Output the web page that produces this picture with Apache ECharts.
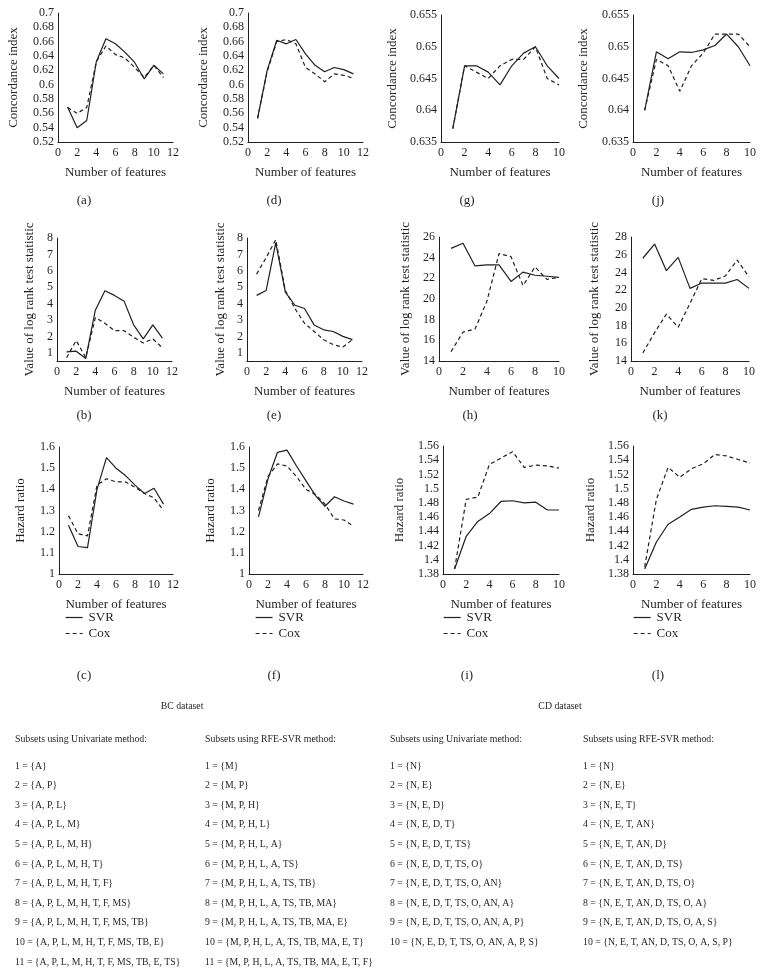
<!DOCTYPE html>
<html><head><meta charset="utf-8">
<script src="https://cdn.jsdelivr.net/npm/echarts@6/dist/echarts.min.js"></script>
<style>html,body{margin:0;padding:0;background:#fff}#c{width:764px;height:969px}</style>
</head><body><div id="c"></div><script>
// ---- data ----
const ciBcUni_svr = [0.569,0.540,0.550,0.632,0.664,0.657,0.645,0.631,0.608,0.627,0.615];
const ciBcUni_cox = [0.568,0.560,0.568,0.632,0.654,0.642,0.637,0.624,0.610,0.627,0.610];
const ciBcRfe_svr = [0.553,0.620,0.662,0.657,0.663,0.643,0.627,0.618,0.624,0.621,0.615];
const ciBcRfe_cox = [0.553,0.618,0.660,0.663,0.657,0.624,0.615,0.604,0.615,0.613,0.609];
const ciCdUni_svr = [0.6371,0.647,0.647,0.646,0.644,0.647,0.649,0.650,0.647,0.645];
const ciCdUni_cox = [0.6371,0.647,0.646,0.645,0.647,0.648,0.648,0.650,0.645,0.644];
const ciCdRfe_svr = [0.640,0.6492,0.6481,0.6492,0.6491,0.6495,0.6502,0.652,0.650,0.647];
const ciCdRfe_cox = [0.640,0.648,0.647,0.643,0.647,0.649,0.652,0.652,0.652,0.650];
const lrBcUni_svr = [1.06,1.10,0.65,3.60,4.78,4.50,4.15,2.70,1.85,2.70,1.90];
const lrBcUni_cox = [0.70,1.75,0.70,3.15,2.80,2.35,2.35,1.95,1.60,1.85,1.30];
const lrBcRfe_svr = [4.50,4.80,7.70,4.70,3.90,3.70,2.70,2.40,2.30,2.00,1.80];
const lrBcRfe_cox = [5.80,6.80,7.90,4.80,3.70,2.80,2.30,1.80,1.50,1.35,1.80];
const lrCdUni_svr = [24.9,25.4,23.2,23.3,23.3,21.7,22.6,22.3,22.2,22.1];
const lrCdUni_cox = [14.9,16.8,17.1,19.8,24.4,24.1,21.3,23.1,21.9,22.1];
const lrCdRfe_svr = [25.6,27.2,24.2,25.7,22.2,22.8,22.8,22.8,23.2,22.2];
const lrCdRfe_cox = [14.9,17.2,19.3,17.8,20.5,23.3,23.1,23.6,25.4,23.5];
const hrBcUni_svr = [1.23,1.13,1.125,1.40,1.55,1.50,1.465,1.42,1.38,1.405,1.33];
const hrBcUni_cox = [1.275,1.19,1.18,1.42,1.45,1.435,1.435,1.41,1.38,1.36,1.30];
const hrBcRfe_svr = [1.27,1.45,1.575,1.585,1.51,1.44,1.37,1.32,1.365,1.345,1.33];
const hrBcRfe_cox = [1.30,1.46,1.52,1.51,1.46,1.40,1.375,1.33,1.26,1.255,1.225];
const hrCdUni_svr = [1.387,1.433,1.454,1.465,1.482,1.483,1.480,1.481,1.470,1.470];
const hrCdUni_cox = [1.387,1.485,1.488,1.534,1.543,1.552,1.530,1.533,1.532,1.529];
const hrCdRfe_svr = [1.387,1.425,1.450,1.460,1.471,1.474,1.476,1.475,1.474,1.470];
const hrCdRfe_cox = [1.390,1.485,1.530,1.516,1.528,1.535,1.548,1.546,1.541,1.536];

const subBcUni = ['{A}','{A, P}','{A, P, L}','{A, P, L, M}','{A, P, L, M, H}','{A, P, L, M, H, T}','{A, P, L, M, H, T, F}','{A, P, L, M, H, T, F, MS}','{A, P, L, M, H, T, F, MS, TB}','{A, P, L, M, H, T, F, MS, TB, E}','{A, P, L, M, H, T, F, MS, TB, E, TS}'];
const subBcRfe = ['{M}','{M, P}','{M, P, H}','{M, P, H, L}','{M, P, H, L, A}','{M, P, H, L, A, TS}','{M, P, H, L, A, TS, TB}','{M, P, H, L, A, TS, TB, MA}','{M, P, H, L, A, TS, TB, MA, E}','{M, P, H, L, A, TS, TB, MA, E, T}','{M, P, H, L, A, TS, TB, MA, E, T, F}'];
const subCdUni = ['{N}','{N, E}','{N, E, D}','{N, E, D, T}','{N, E, D, T, TS}','{N, E, D, T, TS, O}','{N, E, D, T, TS, O, AN}','{N, E, D, T, TS, O, AN, A}','{N, E, D, T, TS, O, AN, A, P}','{N, E, D, T, TS, O, AN, A, P, S}'];
const subCdRfe = ['{N}','{N, E}','{N, E, T}','{N, E, T, AN}','{N, E, T, AN, D}','{N, E, T, AN, D, TS}','{N, E, T, AN, D, TS, O}','{N, E, T, AN, D, TS, O, A}','{N, E, T, AN, D, TS, O, A, S}','{N, E, T, AN, D, TS, O, A, S, P}'];

const yNames = {ci:'Concordance index', lr:'Value of log rank test statistic', hr:'Hazard ratio'};
// ---- layout ----
const FONT = '"Liberation Serif", "DejaVu Serif", serif';
const INK = '#231f20';
const panels = [
  {lab:'(a)', g:[58,13,115,129], y:'ci', ymin:0.52, ymax:0.7, yint:0.02, xmax:12, gap:38, s:ciBcUni_svr, c:ciBcUni_cox, lx:84, ly:201},
  {lab:'(d)', g:[248,13,115,129], y:'ci', ymin:0.52, ymax:0.7, yint:0.02, xmax:12, gap:37.5, s:ciBcRfe_svr, c:ciBcRfe_cox, lx:274, ly:201},
  {lab:'(g)', g:[441,15,118,127], y:'ci', ymin:0.635, ymax:0.655, yint:0.005, xmax:10, gap:41.5, s:ciCdUni_svr, c:ciCdUni_cox, lx:467, ly:201},
  {lab:'(j)', g:[633,15,117,127], y:'ci', ymin:0.635, ymax:0.655, yint:0.005, xmax:10, gap:42.5, s:ciCdRfe_svr, c:ciCdRfe_cox, lx:658, ly:201},
  {lab:'(b)', g:[57,238,115,123], y:'lr', ymin:0.5, ymax:8, yint:0.5, half:true, xmax:12, gap:20.5, s:lrBcUni_svr, c:lrBcUni_cox, lx:84, ly:416},
  {lab:'(e)', g:[247,238,115,123], y:'lr', ymin:0.5, ymax:8, yint:0.5, half:true, xmax:12, gap:20, s:lrBcRfe_svr, c:lrBcRfe_cox, lx:274, ly:416},
  {lab:'(h)', g:[439,237,120,124], y:'lr', ymin:14, ymax:26, yint:2, xmax:10, gap:26.5, s:lrCdUni_svr, c:lrCdUni_cox, lx:470, ly:416},
  {lab:'(k)', g:[631,237,118,124], y:'lr', ymin:14, ymax:28, yint:2, xmax:10, gap:29.5, s:lrCdRfe_svr, c:lrCdRfe_cox, lx:660, ly:416},
  {lab:'(c)', g:[59,447,114,127], y:'hr', ymin:1, ymax:1.6, yint:0.1, xmax:12, gap:31.5, s:hrBcUni_svr, c:hrBcUni_cox, lx:84, ly:676, leg:65},
  {lab:'(f)', g:[249,447,114,127], y:'hr', ymin:1, ymax:1.6, yint:0.1, xmax:12, gap:32, s:hrBcRfe_svr, c:hrBcRfe_cox, lx:274, ly:676, leg:255},
  {lab:'(i)', g:[443,446,116,128], y:'hr', ymin:1.38, ymax:1.56, yint:0.02, xmax:10, gap:36.5, s:hrCdUni_svr, c:hrCdUni_cox, lx:467, ly:676, leg:443},
  {lab:'(l)', g:[633,446,117,128], y:'hr', ymin:1.38, ymax:1.56, yint:0.02, xmax:10, gap:35.5, s:hrCdRfe_svr, c:hrCdRfe_cox, lx:658, ly:676, leg:633}
];

const grid=[], xAxis=[], yAxis=[], series=[], legend=[], graphic=[];
const axLine = {show:true, onZero:false, lineStyle:{color:INK, width:1}};
panels.forEach((p,i)=>{
  grid.push({left:p.g[0], top:p.g[1], width:p.g[2], height:p.g[3], containLabel:false});
  xAxis.push({type:'value', gridIndex:i, min:0, max:p.xmax, interval:2,
    axisLine:axLine, axisTick:{show:false}, splitLine:{show:false},
    axisLabel:{color:INK, fontFamily:FONT, fontSize:12, margin:5},
    name:'Number of features', nameLocation:'middle', nameGap:24,
    nameTextStyle:{color:INK, fontFamily:FONT, fontSize:13}});
  yAxis.push({type:'value', gridIndex:i, min:p.ymin, max:p.ymax, interval:p.yint,
    axisLine:axLine, axisTick:{show:false}, splitLine:{show:false},
    axisLabel:{color:INK, fontFamily:FONT, fontSize:12, margin:4,
      formatter: p.half ? (v=>Math.abs(v-Math.round(v))<1e-9 ? String(Math.round(v)) : '') : (v=>String(+v.toFixed(4)))},
    name:yNames[p.y], nameLocation:'middle', nameRotate:90, nameGap:p.gap,
    nameTextStyle:{color:INK, fontFamily:FONT, fontSize:13}});
  series.push({name:'SVR', type:'line', xAxisIndex:i, yAxisIndex:i, symbol:'none', silent:true, animation:false,
    lineStyle:{color:INK, width:1.2, type:'solid'}, itemStyle:{color:INK},
    data:p.s.map((v,k)=>[k+1,v])});
  series.push({name:'Cox', type:'line', xAxisIndex:i, yAxisIndex:i, symbol:'none', silent:true, animation:false,
    lineStyle:{color:INK, width:1.2, type:[4,3]}, itemStyle:{color:INK},
    data:p.c.map((v,k)=>[k+1,v])});
  graphic.push({type:'text', x:p.lx, y:p.ly, style:{text:p.lab, font:'13px '+FONT, fill:INK, textAlign:'center', textVerticalAlign:'middle'}});
  if(p.leg!==undefined){
    legend.push({left:p.leg, top:611, orient:'vertical', itemWidth:17, itemHeight:10, itemGap:3, padding:0,
      selectedMode:false, data:['SVR','Cox'],
      itemStyle:{opacity:0, color:'transparent', borderWidth:0},
      lineStyle:{color:INK, width:1.2},
      textStyle:{color:INK, fontFamily:FONT, fontSize:13, padding:[0,0,0,1]}});
  }
});

// text block
function txt(x,y,s,size){ graphic.push({type:'text', x:x, y:y, style:{text:s, font:(size||9.8)+'px '+FONT, fill:INK, textVerticalAlign:'middle'}}); }
function ctxt(x,y,s,size){ graphic.push({type:'text', x:x, y:y, style:{text:s, font:(size||9.8)+'px '+FONT, fill:INK, textAlign:'center', textVerticalAlign:'middle'}}); }
ctxt(182,706,'BC dataset');
ctxt(560,706,'CD dataset');
const cols = [[15,'Subsets using Univariate method:',subBcUni],[205,'Subsets using RFE-SVR method:',subBcRfe],[390,'Subsets using Univariate method:',subCdUni],[583,'Subsets using RFE-SVR method:',subCdRfe]];
const rowY0 = 766, rowDy = 19.6;
cols.forEach(c=>{
  txt(c[0],739,c[1]);
  c[2].forEach((s,k)=>txt(c[0], rowY0 + k*rowDy, (k+1)+' = '+s));
});

const chart = echarts.init(document.getElementById('c'), null, {renderer:'canvas'});
chart.setOption({animation:false, backgroundColor:'#fff', grid, xAxis, yAxis, series, legend, graphic});
</script></body></html>
